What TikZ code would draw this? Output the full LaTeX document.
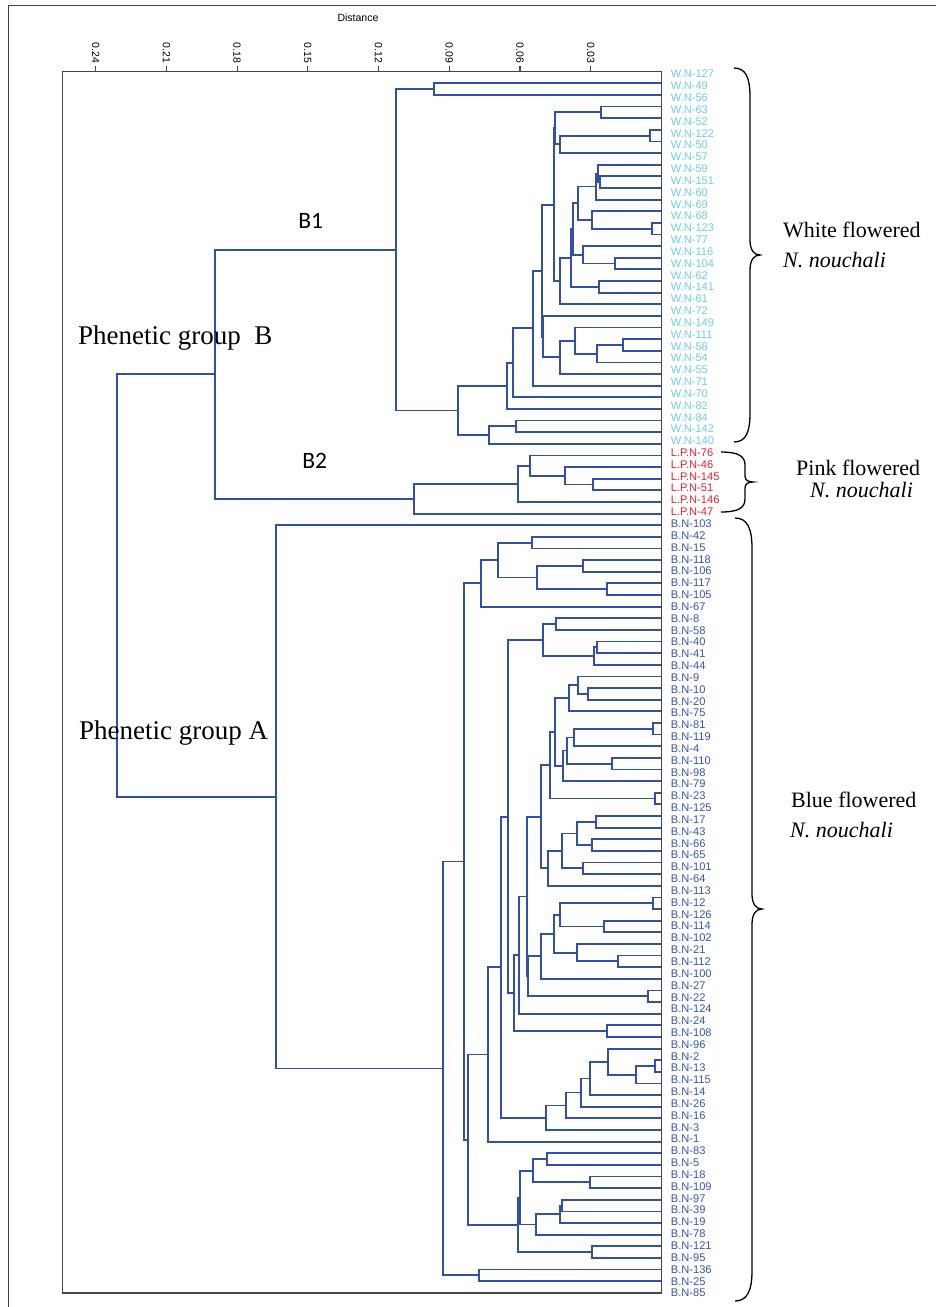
\documentclass[tikz,border=0pt]{standalone}
\usepackage{fontspec}
\setmainfont{Liberation Serif}
\newfontfamily\arialfont{Liberation Sans}
\newfontfamily\calibfont{Carlito}
\usetikzlibrary{calc}

\definecolor{dline}{RGB}{50,80,170}
\definecolor{wcol}{RGB}{112,206,228}
\definecolor{pcol}{RGB}{232,32,40}
\definecolor{bcol}{RGB}{52,84,178}
\definecolor{frm}{RGB}{70,70,70}

\tikzset{
  dendro/.style={draw=dline, line width=1.8pt},
  frame/.style={draw=frm, line width=1.2pt},
  wlab/.style={anchor=west, inner sep=0pt, text=wcol, font=\arialfont\fontsize{11.1}{12}\selectfont},
  plab/.style={wlab, text=pcol},
  blab/.style={wlab, text=bcol},
  tick/.style={rotate=-90, anchor=east, inner sep=0pt, font=\arialfont\fontsize{10.5}{12}\selectfont},
  grp/.style={anchor=base west, inner sep=0pt, font=\fontsize{27}{30}\selectfont},
  sub/.style={inner sep=0pt, font=\calibfont\fontsize{23.5}{26}\selectfont},
  side/.style={anchor=base west, inner sep=0pt, font=\fontsize{22}{25}\selectfont},
  brc/.style={draw=black, line width=1.3pt}
}

% 葉: 枝の端点とラベル
\newcommand{\leafrow}[3]{%
  \coordinate (l#1) at (661.7,{83.3+11.63*#1});
  \node[#2] (t#1) at (670.7,{74+11.835*#1}) {#3};}
% 結合: 名前, 子1, 子2, 距離のx
\newcommand{\mergeat}[4]{%
  \coordinate (tmpmid) at ($(#2)!0.5!(#3)$);
  \coordinate (#1) at (#4,0 |- tmpmid);
  \draw[dendro] (#2) -| (#1) |- (#3);}

\begin{document}
\begin{tikzpicture}[x=1pt, y=-1pt]
  \useasboundingbox (0,0) rectangle (936,1307);
  \draw[frm, line width=1pt] (8,1307) -- (8,5) -- (936,5);

  % 軸
  \node[font=\arialfont\fontsize{10.5}{12}\selectfont] (dist) at (358,18) {Distance};
  \node[tick] (d24) at (95.7,63.5) {0.24};
  \node[tick] (d21) at (166.4,63.5) {0.21};
  \node[tick] (d18) at (237.1,63.5) {0.18};
  \node[tick] (d15) at (307.8,63.5) {0.15};
  \node[tick] (d12) at (378.6,63.5) {0.12};
  \node[tick] (d09) at (449.3,63.5) {0.09};
  \node[tick] (d06) at (520,63.5) {0.06};
  \node[tick] (d03) at (590.7,63.5) {0.03};
  \draw[frame] (95.7,66) -- (95.7,71.7);
  \draw[frame] (166.4,66) -- (166.4,71.7);
  \draw[frame] (237.1,66) -- (237.1,71.7);
  \draw[frame] (307.8,66) -- (307.8,71.7);
  \draw[frame] (378.6,66) -- (378.6,71.7);
  \draw[frame] (449.3,66) -- (449.3,71.7);
  \draw[frame] (520,66) -- (520,71.7);
  \draw[frame] (590.7,66) -- (590.7,71.7);

  % 葉ノード
  \leafrow{0}{wlab}{W.N-127}
  \leafrow{1}{wlab}{W.N-49}
  \leafrow{2}{wlab}{W.N-56}
  \leafrow{3}{wlab}{W.N-63}
  \leafrow{4}{wlab}{W.N-52}
  \leafrow{5}{wlab}{W.N-122}
  \leafrow{6}{wlab}{W.N-50}
  \leafrow{7}{wlab}{W.N-57}
  \leafrow{8}{wlab}{W.N-59}
  \leafrow{9}{wlab}{W.N-151}
  \leafrow{10}{wlab}{W.N-60}
  \leafrow{11}{wlab}{W.N-69}
  \leafrow{12}{wlab}{W.N-68}
  \leafrow{13}{wlab}{W.N-123}
  \leafrow{14}{wlab}{W.N-77}
  \leafrow{15}{wlab}{W.N-116}
  \leafrow{16}{wlab}{W.N-104}
  \leafrow{17}{wlab}{W.N-62}
  \leafrow{18}{wlab}{W.N-141}
  \leafrow{19}{wlab}{W.N-61}
  \leafrow{20}{wlab}{W.N-72}
  \leafrow{21}{wlab}{W.N-149}
  \leafrow{22}{wlab}{W.N-111}
  \leafrow{23}{wlab}{W.N-58}
  \leafrow{24}{wlab}{W.N-54}
  \leafrow{25}{wlab}{W.N-55}
  \leafrow{26}{wlab}{W.N-71}
  \leafrow{27}{wlab}{W.N-70}
  \leafrow{28}{wlab}{W.N-82}
  \leafrow{29}{wlab}{W.N-84}
  \leafrow{30}{wlab}{W.N-142}
  \leafrow{31}{wlab}{W.N-140}
  \leafrow{32}{plab}{L.P.N-76}
  \leafrow{33}{plab}{L.P.N-46}
  \leafrow{34}{plab}{L.P.N-145}
  \leafrow{35}{plab}{L.P.N-51}
  \leafrow{36}{plab}{L.P.N-146}
  \leafrow{37}{plab}{L.P.N-47}
  \leafrow{38}{blab}{B.N-103}
  \leafrow{39}{blab}{B.N-42}
  \leafrow{40}{blab}{B.N-15}
  \leafrow{41}{blab}{B.N-118}
  \leafrow{42}{blab}{B.N-106}
  \leafrow{43}{blab}{B.N-117}
  \leafrow{44}{blab}{B.N-105}
  \leafrow{45}{blab}{B.N-67}
  \leafrow{46}{blab}{B.N-8}
  \leafrow{47}{blab}{B.N-58}
  \leafrow{48}{blab}{B.N-40}
  \leafrow{49}{blab}{B.N-41}
  \leafrow{50}{blab}{B.N-44}
  \leafrow{51}{blab}{B.N-9}
  \leafrow{52}{blab}{B.N-10}
  \leafrow{53}{blab}{B.N-20}
  \leafrow{54}{blab}{B.N-75}
  \leafrow{55}{blab}{B.N-81}
  \leafrow{56}{blab}{B.N-119}
  \leafrow{57}{blab}{B.N-4}
  \leafrow{58}{blab}{B.N-110}
  \leafrow{59}{blab}{B.N-98}
  \leafrow{60}{blab}{B.N-79}
  \leafrow{61}{blab}{B.N-23}
  \leafrow{62}{blab}{B.N-125}
  \leafrow{63}{blab}{B.N-17}
  \leafrow{64}{blab}{B.N-43}
  \leafrow{65}{blab}{B.N-66}
  \leafrow{66}{blab}{B.N-65}
  \leafrow{67}{blab}{B.N-101}
  \leafrow{68}{blab}{B.N-64}
  \leafrow{69}{blab}{B.N-113}
  \leafrow{70}{blab}{B.N-12}
  \leafrow{71}{blab}{B.N-126}
  \leafrow{72}{blab}{B.N-114}
  \leafrow{73}{blab}{B.N-102}
  \leafrow{74}{blab}{B.N-21}
  \leafrow{75}{blab}{B.N-112}
  \leafrow{76}{blab}{B.N-100}
  \leafrow{77}{blab}{B.N-27}
  \leafrow{78}{blab}{B.N-22}
  \leafrow{79}{blab}{B.N-124}
  \leafrow{80}{blab}{B.N-24}
  \leafrow{81}{blab}{B.N-108}
  \leafrow{82}{blab}{B.N-96}
  \leafrow{83}{blab}{B.N-2}
  \leafrow{84}{blab}{B.N-13}
  \leafrow{85}{blab}{B.N-115}
  \leafrow{86}{blab}{B.N-14}
  \leafrow{87}{blab}{B.N-26}
  \leafrow{88}{blab}{B.N-16}
  \leafrow{89}{blab}{B.N-3}
  \leafrow{90}{blab}{B.N-1}
  \leafrow{91}{blab}{B.N-83}
  \leafrow{92}{blab}{B.N-5}
  \leafrow{93}{blab}{B.N-18}
  \leafrow{94}{blab}{B.N-109}
  \leafrow{95}{blab}{B.N-97}
  \leafrow{96}{blab}{B.N-39}
  \leafrow{97}{blab}{B.N-19}
  \leafrow{98}{blab}{B.N-78}
  \leafrow{99}{blab}{B.N-121}
  \leafrow{100}{blab}{B.N-95}
  \leafrow{101}{blab}{B.N-136}
  \leafrow{102}{blab}{B.N-25}
  \leafrow{103}{blab}{B.N-85}

  % 枝 (白)
  \mergeat{w01}{l0}{l1}{434.3}
  \mergeat{w23}{l2}{l3}{601}
  \mergeat{w45}{l4}{l5}{650}
  \mergeat{w46}{w45}{l6}{560}
  \mergeat{w26}{w23}{w46}{555}
  \mergeat{w89}{l8}{l9}{600}
  \mergeat{w79}{l7}{w89}{597.7}
  \mergeat{w710}{w79}{l10}{596}
  \mergeat{w1213}{l12}{l13}{652.3}
  \mergeat{w1113}{l11}{w1213}{591.7}
  \mergeat{w713}{w710}{w1113}{577.7}
  \mergeat{w1516}{l15}{l16}{615}
  \mergeat{w1416}{l14}{w1516}{582.7}
  \mergeat{w716}{w713}{w1416}{572.7}
  \mergeat{w1718}{l17}{l18}{599.3}
  \mergeat{w718}{w716}{w1718}{571}
  \mergeat{w719}{w718}{l19}{560}
  \mergeat{w219}{w26}{w719}{554}
  \mergeat{w2223}{l22}{l23}{623.3}
  \mergeat{w2224}{w2223}{l24}{596.7}
  \mergeat{w2124}{l21}{w2224}{575}
  \mergeat{w2125}{w2124}{l25}{560}
  \mergeat{w2025}{l20}{w2125}{543.3}
  \mergeat{w225}{w219}{w2025}{541.7}
  \mergeat{w226}{w225}{l26}{532.7}
  \mergeat{w227}{w226}{l27}{512.7}
  \mergeat{w228}{w227}{l28}{506.7}
  \mergeat{w2930}{l29}{l30}{516}
  \mergeat{w2931}{w2930}{l31}{489.3}
  \mergeat{w231}{w228}{w2931}{458.3}
  \mergeat{b1}{w01}{w231}{396}

  % 枝 (ピンク)
  \mergeat{p3435}{l34}{l35}{593.3}
  \mergeat{p3335}{l33}{p3435}{565}
  \mergeat{p3235}{l32}{p3335}{530}
  \mergeat{p3236}{p3235}{l36}{518.3}
  \mergeat{b2}{p3236}{l37}{414}
  \mergeat{gb}{b1}{b2}{215}

  % 枝 (青)
  \mergeat{a3940}{l39}{l40}{532.3}
  \mergeat{a4142}{l41}{l42}{582.7}
  \mergeat{a4344}{l43}{l44}{606.7}
  \mergeat{a4144}{a4142}{a4344}{537.3}
  \mergeat{a3944}{a3940}{a4144}{498.3}
  \mergeat{a3945}{a3944}{l45}{480.7}
  \mergeat{a4647}{l46}{l47}{555.7}
  \mergeat{a4849}{l48}{l49}{596.7}
  \mergeat{a4850}{a4849}{l50}{594.3}
  \mergeat{a4650}{a4647}{a4850}{542.7}
  \mergeat{a5253}{l52}{l53}{588.3}
  \mergeat{a5153}{l51}{a5253}{578.3}
  \mergeat{a5154}{a5153}{l54}{569}
  \mergeat{a5556}{l55}{l56}{653.3}
  \mergeat{a5557}{a5556}{l57}{574.3}
  \mergeat{a5859}{l58}{l59}{612.3}
  \mergeat{a5559}{a5557}{a5859}{566.7}
  \mergeat{a5560}{a5559}{l60}{563.3}
  \mergeat{a5160}{a5154}{a5560}{555}
  \mergeat{a6162}{l61}{l62}{655}
  \mergeat{a5162}{a5160}{a6162}{550}
  \mergeat{a6364}{l63}{l64}{596}
  \mergeat{a6566}{l65}{l66}{592.3}
  \mergeat{a6366}{a6364}{a6566}{577.3}
  \mergeat{a6768}{l67}{l68}{583.3}
  \mergeat{a6368}{a6366}{a6768}{561.7}
  \mergeat{a6369}{a6368}{l69}{547.7}
  \mergeat{a5169}{a5162}{a6369}{540.7}
  \mergeat{a7071}{l70}{l71}{652.7}
  \mergeat{a7273}{l72}{l73}{604.3}
  \mergeat{a7073}{a7071}{a7273}{560}
  \mergeat{a7576}{l75}{l76}{618.3}
  \mergeat{a7476}{l74}{a7576}{576.7}
  \mergeat{a7076}{a7073}{a7476}{554.3}
  \mergeat{a7077}{a7076}{l77}{540.7}
  \mergeat{a7879}{l78}{l79}{647.7}
  \mergeat{a7079}{a7077}{a7879}{528.3}
  \mergeat{a5179}{a5169}{a7079}{526.7}
  \mergeat{a5180}{a5179}{l80}{519}
  \mergeat{a8182}{l81}{l82}{606.7}
  \mergeat{a5182}{a5180}{a8182}{514}
  \mergeat{a4682}{a4650}{a5182}{508.3}
  \mergeat{a8485}{l84}{l85}{655}
  \mergeat{a8486}{a8485}{l86}{636}
  \mergeat{a8386}{l83}{a8486}{608.3}
  \mergeat{a8387}{a8386}{l87}{590}
  \mergeat{a8388}{a8387}{l88}{581}
  \mergeat{a8389}{a8388}{l89}{565.7}
  \mergeat{a8390}{a8389}{l90}{545.7}
  \mergeat{a4690}{a4682}{a8390}{500.7}
  \mergeat{a4691}{a4690}{l91}{488.3}
  \mergeat{a9293}{l92}{l93}{546.7}
  \mergeat{a9495}{l94}{l95}{590}
  \mergeat{a9295}{a9293}{a9495}{533.3}
  \mergeat{a9697}{l96}{l97}{561.7}
  \mergeat{a9698}{a9697}{l98}{560}
  \mergeat{a9699}{a9698}{l99}{535.7}
  \mergeat{a9299}{a9295}{a9699}{520}
  \mergeat{a100101}{l100}{l101}{592.3}
  \mergeat{a92101}{a9299}{a100101}{518.3}
  \mergeat{a46101}{a4691}{a92101}{468.3}
  \mergeat{a39101}{a3945}{a46101}{464}
  \mergeat{a102103}{l102}{l103}{479}
  \mergeat{a39103}{a39101}{a102103}{443.3}
  \mergeat{ga}{l38}{a39103}{276}
  \mergeat{root}{gb}{ga}{116.7}

  % 枠
  \draw[frame] (62.7,71.7) rectangle (661.7,1293);

  % グループ名
  \node[grp] (pgb) at (78,344) {Phenetic group\ \ B};
  \node[grp] (pga) at (79,739) {Phenetic group A};
  \node[sub] (sb1) at (310.8,221) {B1};
  \node[sub] (sb2) at (314.7,461) {B2};

  % 括弧と説明
  \draw[brc] (734,68) .. controls (746,68) and (750,78) .. (750,97) -- (750,240)
    .. controls (750,250) and (754,255) .. (760,255) .. controls (754,255) and (750,260) .. (750,270)
    -- (750,413) .. controls (750,432) and (746,442) .. (734,442);
  \draw[brc] (721,452) .. controls (738,452) and (745,456) .. (745,465) -- (745,476)
    .. controls (745,480) and (748,482) .. (753,482) .. controls (748,482) and (745,484) .. (745,488)
    -- (745,499) .. controls (745,508) and (738,512) .. (721,512);
  \draw[brc] (735,518) .. controls (747,518) and (752,528) .. (752,548) -- (752,894)
    .. controls (752,904) and (756,909) .. (762,909) .. controls (756,909) and (752,914) .. (752,924)
    -- (752,1271) .. controls (752,1291) and (747,1301) .. (735,1301);
  \node[side] (wf1) at (783,237) {White flowered};
  \node[side] (wf2) at (783,267) {\textit{N. nouchali}};
  \node[side] (pf1) at (796,475) {Pink flowered};
  \node[side] (pf2) at (810,497) {\textit{N. nouchali}};
  \node[side] (bf1) at (791,807) {Blue flowered};
  \node[side] (bf2) at (790,837) {\textit{N. nouchali}};
\end{tikzpicture}
\end{document}
